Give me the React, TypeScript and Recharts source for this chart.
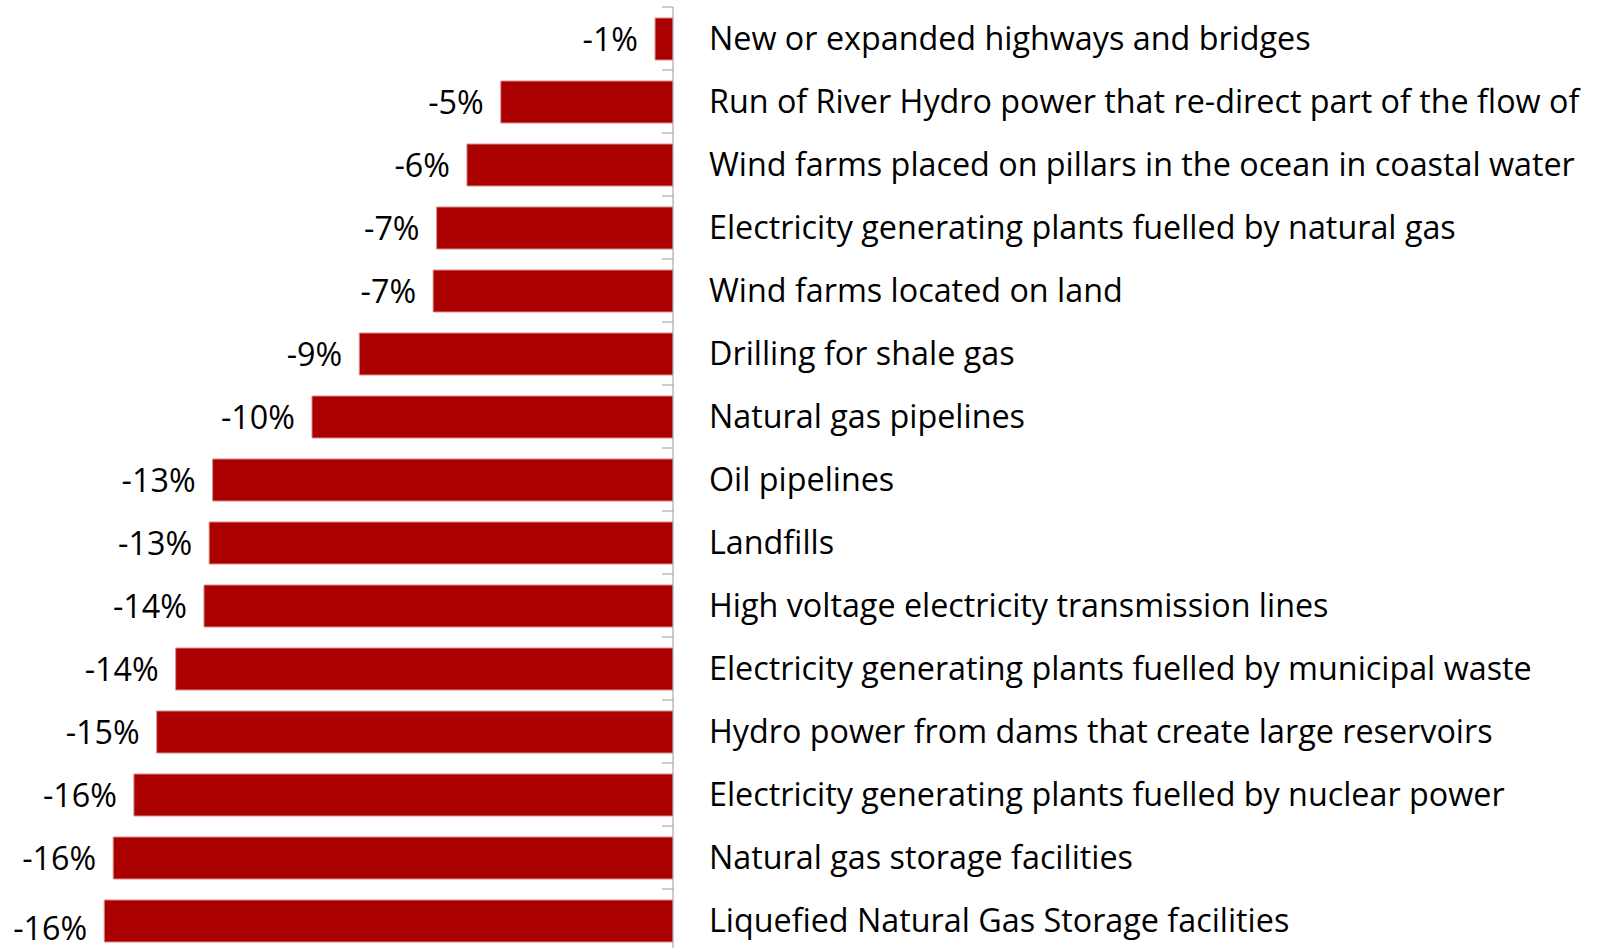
import { BarChart, Bar, XAxis, YAxis, LabelList } from "recharts";

const CATEGORIES = [
  "New or expanded highways and bridges",
  "Run of River Hydro power that re-direct part of the flow of",
  "Wind farms placed on pillars in the ocean in coastal water",
  "Electricity generating plants fuelled by natural gas",
  "Wind farms located on land",
  "Drilling for shale gas",
  "Natural gas pipelines",
  "Oil pipelines",
  "Landfills",
  "High voltage electricity transmission lines",
  "Electricity generating plants fuelled by municipal waste",
  "Hydro power from dams that create large reservoirs",
  "Electricity generating plants fuelled by nuclear power",
  "Natural gas storage facilities",
  "Liquefied Natural Gas Storage facilities",
];

// net change, in percent
const VALUES = [
  -0.52, -4.99, -5.97, -6.85, -6.95, -9.09, -10.46, -13.34, -13.44, -13.59,
  -14.41, -14.96, -15.62, -16.22, -16.48,
];

const data = CATEGORIES.map((name, i) => ({ name, value: VALUES[i] }));

const WIDTH = 1599;
const HEIGHT = 960;
const MARGIN = { top: 7, right: 0, bottom: 8, left: 0 };
const AXIS_W = 926;
const TICK_GAP = 36;
const BAND = (HEIGHT - MARGIN.top - MARGIN.bottom) / CATEGORIES.length;
const FONT = "'Open Sans', 'Noto Sans', sans-serif";
const FONT_SIZE = 32.3;

function CategoryTick(props: any) {
  const { x, y, payload } = props;
  const axisX = x - TICK_GAP;
  const half = payload && payload.offset ? payload.offset : BAND / 2;
  return (
    <g>
      <line x1={axisX - 11} x2={axisX} y1={y - half} y2={y - half} stroke="#9a9a9a" strokeWidth={1} />
      <text x={x} y={y} dy="0.36em" textAnchor="start" fontFamily={FONT} fontSize={FONT_SIZE} fill="#000">
        {payload.value}
      </text>
    </g>
  );
}

function ValueLabel(props: any) {
  const { x, y, width, height, value, index } = props;
  const left = Math.min(x, x + width);
  // the bottom label sits a little low in the original
  const shift = index === CATEGORIES.length - 1 ? 7 : 0;
  return (
    <text
      x={left - 17}
      y={y + height / 2 + shift}
      dy="0.36em"
      textAnchor="end"
      fontFamily={FONT}
      fontSize={FONT_SIZE}
      fill="#000"
    >
      {`${Number(value).toFixed(0)}%`}
    </text>
  );
}

export default function App() {
  return (
    <div style={{ position: "absolute", left: 0, top: 0, background: "#fff" }}>
      <BarChart width={WIDTH} height={HEIGHT} data={data} layout="vertical" margin={MARGIN}>
        <XAxis type="number" domain={[-19.5, 0]} hide allowDataOverflow />
        <YAxis
          type="category"
          dataKey="name"
          orientation="right"
          width={AXIS_W}
          stroke="#9a9a9a"
          tickLine={false}
          tickSize={0}
          tickMargin={TICK_GAP}
          interval={0}
          tick={<CategoryTick />}
        />
        <Bar dataKey="value" fill="#aa0000" stroke="#d98c8c" strokeWidth={1} barSize={42} isAnimationActive={false}>
          <LabelList dataKey="value" content={<ValueLabel />} />
        </Bar>
      </BarChart>
    </div>
  );
}
